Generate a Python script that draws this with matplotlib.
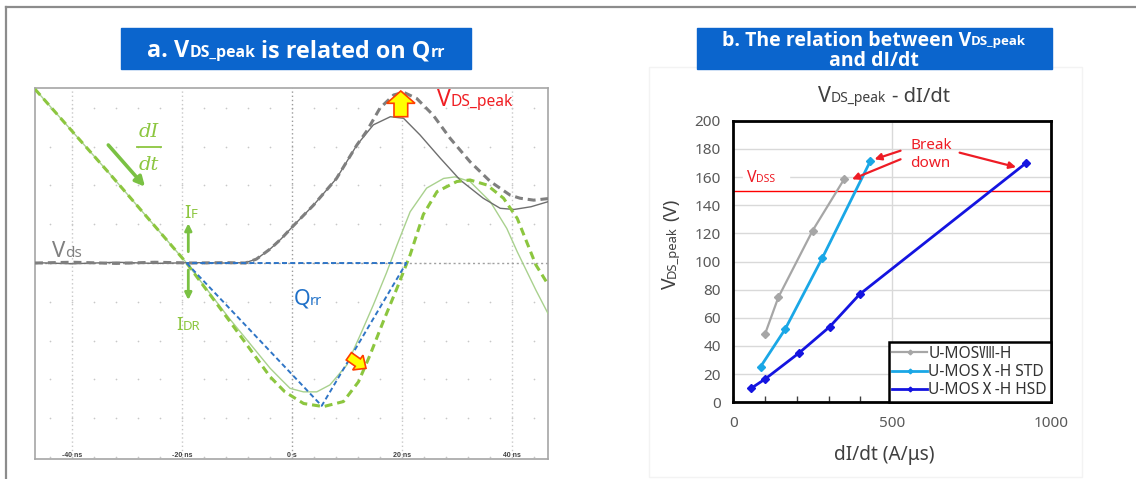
import numpy as np
import matplotlib
matplotlib.use("Agg")
import matplotlib.pyplot as plt
from matplotlib import transforms as mtransforms
from matplotlib.patches import Rectangle, Polygon
from matplotlib.lines import Line2D
from matplotlib import font_manager as fm

# ---------------- data : panel a (oscilloscope, time in ns, amplitude in divisions) -------------
idr_dash_t = [-46.8, -33.2, -19.2, -11.3, -4.0, -1.3, 2.1, 5.7, 9.35, 12.1, 14.2, 16.6, 19.1,
              21.5, 23.9, 26.4, 30.0, 32.4, 35.5, 38.5, 41.0, 44.4, 46.6]
idr_dash_v = [4.48, 2.30, 0.0, -1.51, -2.93, -3.32, -3.62, -3.70, -3.57, -3.06, -2.37, -1.51, -0.65,
              0.21, 1.25, 1.84, 2.10, 2.14, 2.01, 1.67, 1.15, -0.05, -0.55]

id_solid_t = [-46.8, -33.2, -19.2, -11.3, -4.0, -2.2, -0.36, 2.06, 4.5, 6.9, 9.96, 12.4, 14.8, 17.2,
              19.1, 21.5, 24.5, 27.6, 29.7, 32.4, 36.1, 39.1, 41.0, 44.4, 46.6]
id_solid_v = [4.48, 2.30, 0.0, -1.45, -2.71, -2.97, -3.23, -3.32, -3.32, -3.14, -2.63, -1.86, -1.08, -0.25,
              0.46, 1.32, 1.93, 2.18, 2.22, 2.10, 1.58, 0.89, 0.29, -0.70, -1.30]

vds_solid_t = [-46.8, -40, -32, -25, -18, -12, -8.5, -6.5, -4.0, -2.0, 0.24, 3.9, 8.1, 11.8, 14.8, 17.9,
               20.3, 23.3, 27.0, 30.6, 34.8, 37.9, 40.4, 43.5, 46.6]
vds_solid_v = [0.01, -0.02, 0.02, -0.01, 0.01, 0.0, 0.01, 0.10, 0.36, 0.62, 0.96, 1.49, 2.18, 3.04, 3.56, 3.77,
               3.73, 3.30, 2.70, 2.14, 1.67, 1.41, 1.38, 1.45, 1.58]

vds_dash_t = [-46.8, -40, -32, -25, -18, -12, -8.5, -6.5, -4.0, -2.0, 0.24, 3.9, 8.1, 11.8, 13.6, 16.0,
              18.5, 20.3, 22.7, 25.7, 28.8, 32.4, 36.1, 39.7, 41.5, 44.0, 46.6]
vds_dash_v = [0.0, 0.02, -0.01, 0.02, 0.0, 0.01, 0.0, 0.10, 0.36, 0.62, 0.96, 1.49, 2.18, 3.04, 3.40, 3.99,
              4.33, 4.40, 4.24, 3.81, 3.21, 2.61, 2.10, 1.75, 1.67, 1.62, 1.66]

qrr_t = [-19.2, 5.4, 20.8, -19.2]
qrr_v = [0.0, -3.68, 0.0, 0.0]

scope_tick_vals = [-40, -20, 0, 20, 40]
scope_tick_labels = ["-40 ns", "-20 ns", "0 s", "20 ns", "40 ns"]

# ---------------- data : panel b -------------
umos8_x = [100, 142, 250, 349]
umos8_y = [48.5, 74.6, 122.0, 158.4]
std_x = [86, 163, 280, 432]
std_y = [25.3, 51.8, 102.3, 171.4]
hsd_x = [56, 100, 208, 304, 398, 921]
hsd_y = [9.9, 16.5, 35.2, 53.7, 76.7, 169.7]
series_labels = ["U-MOSⅧ-H", "U-MOSⅩ-H STD", "U-MOSⅩ-H HSD"]
vdss_level = 150
b_xticks = [0, 500, 1000]
b_yticks = list(range(0, 201, 20))

# ---------------- figure helpers -------------
W, H = 1136, 479
fig = plt.figure(figsize=(W / 100, H / 100), dpi=100)
fig.patch.set_facecolor("white")
renderer = fig.canvas.get_renderer()
ID = mtransforms.IdentityTransform()
FONT = ["Noto Sans", "Noto Sans CJK JP", "DejaVu Sans"]


def _bold_family():
    for fam in ["Open Sans", "Lato", "Roboto", "Noto Sans CJK JP", "DejaVu Sans"]:
        try:
            path = fm.findfont(fm.FontProperties(family=fam, weight="bold"), fallback_to_default=False)
        except Exception:
            continue
        if "bold" in path.lower() or "black" in path.lower():
            return [fam, "DejaVu Sans"]
    return ["DejaVu Sans"]


BOLD = _bold_family()


def px_rect(x0, y0, x1, y1):
    return [x0 / W, 1 - y1 / H, (x1 - x0) / W, (y1 - y0) / H]


def _meas(s, **kw):
    t = fig.text(0, 0, s, transform=ID, **kw)
    w = t.get_window_extent(renderer).width
    t.remove()
    return w


def _adv(s, **kw):
    return _meas("|" + s + "|", **kw) - _meas("||", **kw)


def rich(x, y, parts, ha="left", color="k", weight="normal", family=None, rot=False, style="normal",
         zorder=6):
    """parts: list of (text, size). x,y in image pixels (y from top), y = baseline."""
    family = family or FONT
    items = []
    total = 0
    for s, size in parts:
        kw = dict(fontsize=size, family=family, weight=weight, style=style)
        lead = s[: len(s) - len(s.lstrip())]
        a = _adv(s, **kw)
        items.append((s.strip(), kw, _adv(lead, **kw) if lead else 0.0, a))
        total += a
    start = {"left": 0, "center": total / 2, "right": total}[ha]
    pos = -start
    for s, kw, lead_w, a in items:
        if s:
            if rot:
                fig.text(x, H - y + pos + lead_w, s, transform=ID, color=color, rotation=90,
                         rotation_mode="anchor", ha="left", va="baseline", zorder=zorder, **kw)
            else:
                fig.text(x + pos + lead_w, H - y, s, transform=ID, color=color,
                         ha="left", va="baseline", zorder=zorder, **kw)
        pos += a


def px_arrow(x0, y0, x1, y1, color, lw=2, ms=10):
    fig.add_artist(matplotlib.patches.FancyArrowPatch(
        (x0, H - y0), (x1, H - y1), transform=ID, arrowstyle="-|>", color=color,
        lw=lw, mutation_scale=ms, shrinkA=0, shrinkB=0, zorder=7))


# ---------------- outer frame lines -------------
fig.add_artist(Line2D([5.5, W], [H - 6.7, H - 6.7], transform=ID, color="#8C8C8C", lw=1.6, zorder=1))
fig.add_artist(Line2D([5.5, 5.5], [0, H - 6.7], transform=ID, color="#8C8C8C", lw=1.6, zorder=1))

# faint chart-area border of panel b
fig.add_artist(Rectangle((649, H - 477), 433, 410, transform=ID, fill=False, ec="#F3F3F3", lw=1, zorder=1))

# ---------------- title boxes -------------
BLUE = "#0B65CD"
fig.add_artist(Rectangle((121.4, H - 69.3), 349.3, 41.6, transform=ID, color=BLUE, zorder=2))
rich(296, 57.3, [("a. V", 16.8), ("DS_peak", 11.4), (" is related on Q", 16.8), ("rr", 11.4)],
     ha="center", color="white", weight="bold", family=BOLD)
fig.add_artist(Rectangle((696.7, H - 69.3), 354.8, 41.6, transform=ID, color=BLUE, zorder=2))
rich(874, 45.5, [("b. The relation between V", 14), ("DS_peak", 9.5)],
     ha="center", color="white", weight="bold", family=BOLD)
rich(874, 66.5, [("and dI/dt", 14)], ha="center", color="white", weight="bold", family=BOLD)

# ---------------- panel a : oscilloscope -------------
axA = fig.add_axes(px_rect(35, 88, 548, 459))
axA.set_xlim(-46.8, 46.6)
axA.set_ylim(-5.05, 4.51)
axA.set_xticks([])
axA.set_yticks([])
for s in axA.spines.values():
    s.set_color("#A6A6A6")
    s.set_linewidth(1.2)

gt = np.arange(-44, 45, 4)
gv = np.arange(-5, 5)
GT, GV = np.meshgrid(gt, gv)
axA.scatter(GT.ravel(), GV.ravel(), s=1.5, color="#C8C8C8", lw=0, zorder=1)
for t in scope_tick_vals:
    axA.axvline(t, color="#9A9A9A" if t == 0 else "#C8C8C8", lw=1, ls=(0, (1, 2)), zorder=1)
axA.axhline(0, color="#A0A0A0", lw=1, ls=(0, (1.5, 2)), zorder=1)
for t, lab in zip(scope_tick_vals, scope_tick_labels):
    axA.text(t, -4.97, lab, ha="center", va="center", fontsize=5, weight="bold",
             family=["Liberation Sans", "DejaVu Sans"], color="#404040")

axA.plot(id_solid_t, id_solid_v, color="#A9D18E", lw=1.0, zorder=3)
axA.plot(vds_solid_t, vds_solid_v, color="#6E6E6E", lw=1.0, zorder=3)
axA.plot(idr_dash_t, idr_dash_v, color="#8CC63F", lw=2.2, ls=(0, (2.6, 1.6)), zorder=4)
axA.plot(vds_dash_t, vds_dash_v, color="#7F7F7F", lw=2.2, ls=(0, (2.6, 1.6)), zorder=4)
axA.plot(qrr_t, qrr_v, color="#2F75C6", lw=1.4, ls=(0, (2.6, 1.6)), zorder=4)

# annotations panel a
GREEN = "#8CC63F"
rich(149, 136.7, [("dI", 14)], ha="center", color=GREEN, family=["DejaVu Serif"], style="italic")
fig.add_artist(Line2D([137.3, 161], [H - 146.7, H - 146.7], transform=ID, color=GREEN, lw=1.3, zorder=7))
rich(149, 170, [("dt", 14)], ha="center", color=GREEN, family=["DejaVu Serif"], style="italic")
px_arrow(108.3, 145, 145, 186.7, "#7AC143", lw=2.6, ms=14)

rich(184, 218.3, [("I", 13.5), ("F", 9.5)], color=GREEN)
px_arrow(188.3, 251.7, 188.3, 223.3, "#7AC143", lw=2, ms=10)
px_arrow(188.3, 270, 188.3, 300, "#7AC143", lw=2, ms=10)
rich(176.7, 330, [("I", 13.5), ("DR", 9.5)], color=GREEN)
rich(51.7, 256.7, [("V", 16), ("ds", 11)], color="#808080")
rich(293.3, 305, [("Q", 15.5), ("rr", 10.5)], color="#1F70C8")
rich(436.7, 105.7, [("V", 16.5), ("DS_peak", 11.2)], color="#F01E23")

# yellow block arrows
up = [(400.8, 91), (415, 103.3), (407.7, 103.3), (407.7, 116.7), (394, 116.7), (394, 103.3), (386.7, 103.3)]
fig.add_artist(Polygon([(x, H - y) for x, y in up], closed=True, transform=ID,
                       fc="#FFFF00", ec="#FF3D00", lw=1.2, zorder=8))
ang = np.deg2rad(-35)
shape = [(11, 0), (1, 9), (1, 4.5), (-10, 4.5), (-10, -4.5), (1, -4.5), (1, -9)]
cx, cy = 357, 362
small = [(cx + px * np.cos(ang) - py * np.sin(ang), (H - cy) + px * np.sin(ang) + py * np.cos(ang))
         for px, py in shape]
fig.add_artist(Polygon(small, closed=True, transform=ID, fc="#FFFF00", ec="#FF3D00", lw=1.2, zorder=8))

# ---------------- panel b : V_DS_peak vs dI/dt -------------
axB = fig.add_axes(px_rect(733.3, 120.7, 1050.7, 402.3))
axB.set_xlim(0, 1000)
axB.set_ylim(0, 200)
for s in axB.spines.values():
    s.set_color("black")
    s.set_linewidth(2)
axB.set_yticks(b_yticks)
axB.set_xticks(b_xticks)
axB.set_xticks(range(0, 1001, 100), minor=True)
axB.tick_params(axis="y", length=0, pad=9, labelsize=11, labelcolor="#595959")
axB.tick_params(axis="x", which="both", direction="in", length=4, width=1, color="#404040",
                pad=10, labelsize=11, labelcolor="#595959")
for lab in axB.get_xticklabels() + axB.get_yticklabels():
    lab.set_family(FONT)
axB.grid(axis="y", color="#D9D9D9", lw=1, zorder=0)
axB.axvline(500, color="#D9D9D9", lw=1, zorder=0)
axB.set_axisbelow(True)
axB.axhline(vdss_level, color="#FF0000", lw=1, zorder=2)
axB.add_patch(Rectangle((30, 155), 145, 10, color="white", zorder=1.5))

l1, = axB.plot(umos8_x, umos8_y, color="#A6A6A6", lw=1.6, marker="D", ms=4, zorder=3)
l2, = axB.plot(std_x, std_y, color="#1AA7E6", lw=2, marker="D", ms=4, zorder=3)
l3, = axB.plot(hsd_x, hsd_y, color="#1414E0", lw=2, marker="D", ms=4, zorder=3)
leg = axB.legend([l1, l2, l3], series_labels, loc="lower right", bbox_to_anchor=(1, 0),
                 borderaxespad=0, fancybox=False, edgecolor="black", framealpha=1,
                 prop={"family": FONT, "size": 11.2}, handlelength=2.2, handletextpad=0.1,
                 labelspacing=0.15, borderpad=0.25, markerscale=0.6)
leg.get_frame().set_linewidth(1.8)
for t in leg.get_texts():
    t.set_color("#333333")

# arrows "Break down"
RED = "#EE1C25"
for tail, head in [((527, 178.7), (445, 172.6)), ((527, 172.6), (374, 158.4)), ((713, 177.3), (891, 167.0))]:
    axB.annotate("", xy=head, xytext=tail,
                 arrowprops=dict(arrowstyle="-|>", color=RED, lw=1.6, mutation_scale=10,
                                 shrinkA=0, shrinkB=0), zorder=5)
rich(910, 149, [("Break", 11)], color=RED)
rich(910, 167.3, [("down", 11)], color=RED)
rich(746.7, 181.7, [("V", 11.5), ("DSS", 7.5)], color=RED)

# titles / labels panel b
rich(884, 101.7, [("V", 15.5), ("DS_peak", 10), (" - dI/dt", 14.5)], ha="center", color="#404040")
rich(884, 460, [("dI/dt (A/μs)", 13.7)], ha="center", color="#404040")
rich(676, 244, [("V", 14), ("DS_peak", 9.3), (" (V)", 13.3)], ha="center", color="#404040", rot=True)

fig.savefig("out.png", dpi=100)
